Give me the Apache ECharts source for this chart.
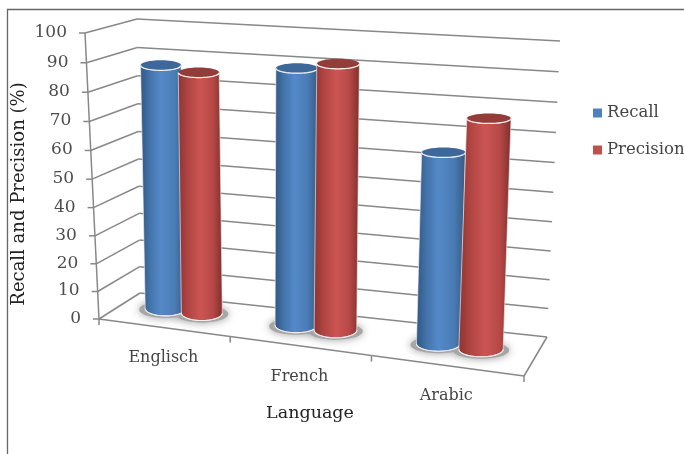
<!DOCTYPE html>
<html><head><meta charset="utf-8">
<style>html,body{margin:0;padding:0;background:#fff}#c{width:684px;height:454px}</style>
<script src="https://cdn.jsdelivr.net/npm/echarts@6/dist/echarts.min.js"></script>
</head><body><div id="c"></div>
<script>
const categories = ['Englisch', 'French', 'Arabic'];
const recall = [87, 89.5, 65.5];
const precision = [85.5, 92, 78];
const valueTicks = [0,10,20,30,40,50,60,70,80,90,100];
const seriesNames = ['Recall', 'Precision'];
const yTitle = 'Recall and Precision (%)';
const xTitle = 'Language';

const FONT = '"DejaVu Serif", serif';
const LINE = '#888888';
// perspective box corners (frame style of the 3D plot)
const A=[99,319],B=[524,376],C=[547,337],D=[140,293],E=[85,33],F=[137,19],G=[560,41],H=[537,68];
const warpU = u => u/(u+1.12*(1-u));
const warpV = v => v/(v+1.045*(1-v));
const mix=(p,q,t)=>[p[0]+(q[0]-p[0])*t,p[1]+(q[1]-p[1])*t];
// u: along categories, z: depth (1=back), v: value fraction
function proj(u,z,v){
  const f=warpU(u);
  const bot=mix(mix(A,B,f),mix(D,C,f),z), top=mix(mix(E,H,f),mix(F,G,f),z);
  return mix(bot,top,warpV(v));
}
// scales come from the (hidden) cartesian axes
function uv(params,api,cat,val){
  const p=api.coord([cat,val]), s=params.coordSys;
  return [(p[0]-s.x)/s.width,1-(p[1]-s.y)/s.height];
}
const lineEl=(a,b,w,c)=>({type:'line',shape:{x1:a[0],y1:a[1],x2:b[0],y2:b[1]},style:{stroke:c||LINE,lineWidth:w||1.5},silent:true});

function renderValueFrame(params,api){
  const [,v]=uv(params,api,api.value(0),api.value(1));
  const fl=proj(0,0,v), bl=proj(0,1,v), br=proj(1,1,v);
  return {type:'group',children:[
    lineEl(fl,bl),lineEl(bl,br),
    lineEl([fl[0]-6,fl[1]],fl),
    {type:'text',style:{text:String(api.value(1)),x:fl[0]-18,y:fl[1]-0.5,font:'17px '+FONT,fill:'#4d4d4d',align:'right',verticalAlign:'middle'}}
  ]};
}
function renderCategoryFrame(params,api){
  const i=api.value(0);
  const [uc]=uv(params,api,i,0);
  const w=1/categories.length;
  const t0=proj(uc-w/2,0,0), t1=proj(uc+w/2,0,0), c=proj(uc,0,0);
  const kids=[lineEl(t0,t1),lineEl(t1,[t1[0],t1[1]+6]),
    {type:'text',style:{text:categories[i],x:c[0],y:c[1]+30.5,font:'16px '+FONT,fill:'#444',align:'center',verticalAlign:'middle'}}];
  if(i===0){
    kids.push(lineEl(t0,[t0[0],t0[1]+6]));
    kids.push(lineEl(proj(0,0,0),proj(0,0,1)));
  }
  if(i===categories.length-1){
    kids.push(lineEl(proj(1,0,0),proj(1,1,0)));
  }
  return {type:'group',children:kids};
}
function cylGeom(params,api,off){
  const [uc,v]=uv(params,api,api.value(0),api.value(1));
  const u=uc+off+0.009*uc*uc, f=warpU(u), z=0.61-0.11*f;
  const r=20+2.5*f;
  return {base:proj(u,z,0),top:proj(u,z,v),r};
}
function arc(c,rx,ry,a0,a1,n){
  const pts=[];
  for(let k=0;k<=n;k++){const a=a0+(a1-a0)*k/n;pts.push([c[0]+rx*Math.cos(a),c[1]+ry*Math.sin(a)]);}
  return pts;
}
const TOPRY=5, BASERY=7.5;
function shadowRenderer(off){
  return (params,api)=>{
    const g=cylGeom(params,api,off);
    return {type:'ellipse',shape:{cx:g.base[0],cy:g.base[1]+1,rx:g.r+6,ry:BASERY+1},
      style:{fill:'#a6a6a6',shadowBlur:9,shadowColor:'#9c9c9c'},silent:true};
  };
}
function cylRenderer(off,stops,topFill){
  return (params,api)=>{
    const g=cylGeom(params,api,off);
    const bottom=arc(g.base,g.r,BASERY,Math.PI,0,30), front=arc(g.top,g.r,TOPRY,0,Math.PI,30);
    return {type:'group',children:[
      {type:'polygon',shape:{points:bottom.concat(front)},
       style:{fill:{type:'linear',x:0,y:0,x2:1,y2:0,global:false,colorStops:stops},stroke:'rgba(245,235,235,.65)',lineWidth:1},silent:true},
      {type:'ellipse',shape:{cx:g.top[0],cy:g.top[1],rx:g.r,ry:TOPRY},style:{fill:topFill,lineWidth:0},silent:true},
      {type:'polyline',shape:{points:front},style:{stroke:'#f1eeee',lineWidth:1.3,fill:null},silent:true},
      {type:'polyline',shape:{points:bottom},style:{stroke:'#f0f0f0',lineWidth:1.1,fill:null},silent:true}
    ]};
  };
}
const BLUE_STOPS=[{offset:0,color:'#2f5682'},{offset:.2,color:'#4272a8'},{offset:.45,color:'#5489c9'},{offset:.75,color:'#4a7cb6'},{offset:1,color:'#34597f'}];
const RED_STOPS=[{offset:0,color:'#8a3432'},{offset:.2,color:'#ad4341'},{offset:.5,color:'#cc5553'},{offset:.78,color:'#b64846'},{offset:1,color:'#7d2f2d'}];
const OFF=[-0.055,0.041];
const asPts=arr=>arr.map((v,i)=>[i,v]);
const custom=(name,data,renderItem,extra)=>Object.assign({name,type:'custom',data,renderItem,animation:false,silent:true,clip:false,encode:{x:0,y:1}},extra||{});

const chart=echarts.init(document.getElementById('c'),null,{renderer:'canvas'});
chart.setOption({
  animation:false,
  backgroundColor:'#fff',
  grid:{left:0,right:0,top:0,bottom:0},
  xAxis:{type:'category',data:categories,show:false},
  yAxis:{type:'value',min:0,max:100,interval:10,show:false},
  legend:{data:seriesNames.map(n=>({name:n,icon:'rect'})),orient:'vertical',left:593,top:104.5,padding:0,itemWidth:9,itemHeight:9,itemGap:20,
    textStyle:{fontFamily:FONT,fontSize:16.5,color:'#444'},selectedMode:false},
  graphic:[
    {type:'line',shape:{x1:7,y1:9.5,x2:684,y2:9.5},style:{stroke:'#666',lineWidth:1.3},silent:true},
    {type:'line',shape:{x1:7.5,y1:9,x2:7.5,y2:454},style:{stroke:'#666',lineWidth:1.3},silent:true},
    {type:'text',x:19,y:194,rotation:Math.PI/2,style:{text:yTitle,font:'18px '+FONT,fill:'#222',align:'center',verticalAlign:'middle'},silent:true},
    {type:'text',x:310,y:413,style:{text:xTitle,font:'17.5px '+FONT,fill:'#222',align:'center',verticalAlign:'middle'},silent:true}
  ],
  series:[
    custom('valueFrame',valueTicks.map(t=>[0,t]),renderValueFrame),
    custom('categoryFrame',categories.map((c,i)=>[i,0]),renderCategoryFrame),
    custom('shadowR',asPts(recall),shadowRenderer(OFF[0])),
    custom('shadowP',asPts(precision),shadowRenderer(OFF[1])),
    custom(seriesNames[0],asPts(recall),cylRenderer(OFF[0],BLUE_STOPS,'#3d6899'),{itemStyle:{color:'#4f81bd'}}),
    custom(seriesNames[1],asPts(precision),cylRenderer(OFF[1],RED_STOPS,'#933c3a'),{itemStyle:{color:'#c0504d'}})
  ]
});
</script></body></html>
